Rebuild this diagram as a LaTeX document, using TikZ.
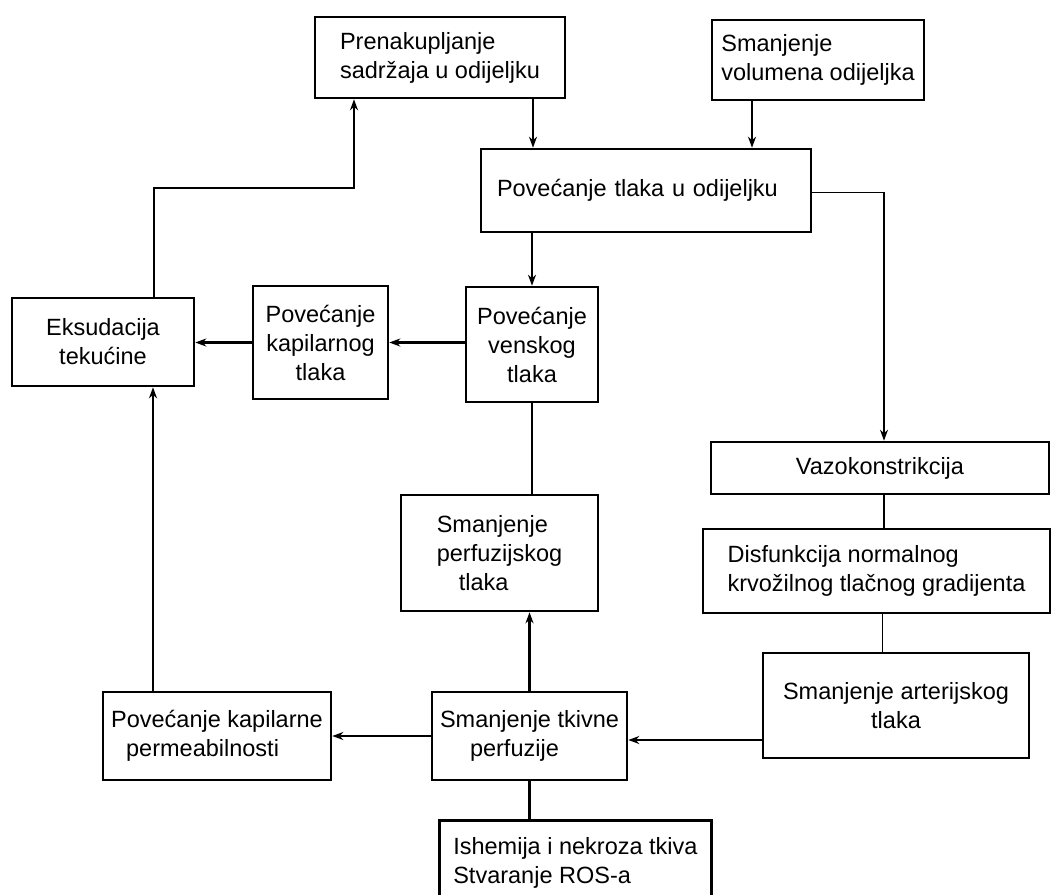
\documentclass[tikz,border=0pt]{standalone}
\usepackage{fontspec}
\setmainfont{Liberation Sans}
\usetikzlibrary{calc}
\usetikzlibrary{arrows.meta}

\begin{document}
\begin{tikzpicture}[x=1pt, y=-1pt,
 blok/.style={draw, line width=2.6pt, inner sep=4pt, font=\fontsize{23.5}{29}\selectfont},
 pil/.style={line width=2.2pt, ->, >={Stealth[length=11pt, width=8pt]}},
 crta/.style={line width=2.2pt}]
\useasboundingbox (0,0) rectangle (1051,894);
\node[blok, align=left, minimum width=250pt, minimum height=81pt] (prenak) at (440,57.5) {Prenakupljanje\\sadržaja u odijeljku};
\node[blok, align=left, minimum width=212pt, minimum height=80pt] (volumen) at (818,60) {Smanjenje\\volumena odijeljka};
\node[blok, align=left, text width=298pt, inner xsep=16pt, minimum height=83pt] (tlak) at (646,190.5) {Povećanje tlaka u odijeljku};
\node[blok, align=center, minimum width=182pt, minimum height=88pt] (eksud) at (103,342) {Eksudacija\\tekućine};
\node[blok, align=center, minimum width=135pt, minimum height=113pt] (kapil) at (320.5,342.5) {Povećanje\\kapilarnog\\tlaka};
\node[blok, align=center, minimum width=132pt, minimum height=115pt] (vensk) at (532,344.5) {Povećanje\\venskog\\tlaka};
\node[blok, align=center, minimum width=338pt, minimum height=52pt] (vazo) at (880,468) {Vazokonstrikcija};
\node[blok, align=left, minimum width=347pt, minimum height=84pt] (disf) at (876.5,571) {Disfunkcija normalnog\\krvožilnog tlačnog gradijenta};
\node[blok, align=center, minimum width=266pt, minimum height=105pt] (arter) at (896,705.5) {Smanjenje arterijskog\\tlaka};
\node[blok, align=left, minimum width=197pt, minimum height=116pt] (perfuz) at (499.5,553) {Smanjenje\\perfuzijskog\\\hspace*{22pt}tlaka};
\node[blok, align=left, minimum width=195pt, minimum height=88pt] (tkiv) at (529.5,736) {Smanjenje tkivne\\\hspace*{30pt}perfuzije};
\node[blok, align=left, minimum width=228pt, minimum height=88pt] (kapperm) at (217,736) {Povećanje kapilarne\\\hspace*{15pt}permeabilnosti};
\node[blok, align=left, anchor=north west, inner xsep=14pt, inner ysep=17pt] (ishem) at (438,819) {Ishemija i nekroza tkiva\\Stvaranje ROS-a};

\draw[pil] ([xshift=93pt]prenak.south) -- ([xshift=93pt]prenak.south |- tlak.north);
\draw[pil] ([xshift=-66pt]volumen.south) -- ([xshift=-66pt]volumen.south |- tlak.north);
\draw[pil, line width=1.5pt] ([yshift=-2pt]tlak.east) -| ([xshift=4pt]vazo.north);
\draw[pil] (vensk.north |- tlak.south) -- (vensk.north);
\draw[pil] (kapil.east -| vensk.west) -- (kapil.east);
\draw[pil] (kapil.west) -- (kapil.west -| eksud.east);
\draw[pil] ([xshift=51pt]eksud.north) -- ++(0,-109) -| ([xshift=-86pt]prenak.south);
\draw[crta] (vensk.south) -- (vensk.south |- perfuz.north);
\draw[pil] (tkiv.north) -- (tkiv.north |- perfuz.south);
\draw[crta] (tkiv.south) -- (tkiv.south |- ishem.north);
\draw[pil] ([yshift=-4pt]tkiv.east -| arter.west) -- ([yshift=-4pt]tkiv.east);
\draw[pil] (tkiv.west) -- (kapperm.east);
\draw[pil] ([xshift=-64pt]kapperm.north) -- ([xshift=-64pt]kapperm.north |- eksud.south);
\draw[crta, line width=1.5pt] ([xshift=4pt]vazo.south) -- ([xshift=4pt]vazo.south |- disf.north);
\draw[crta, line width=1.5pt] ([xshift=6pt]disf.south) -- ([xshift=6pt]disf.south |- arter.north);
\end{tikzpicture}
\end{document}
